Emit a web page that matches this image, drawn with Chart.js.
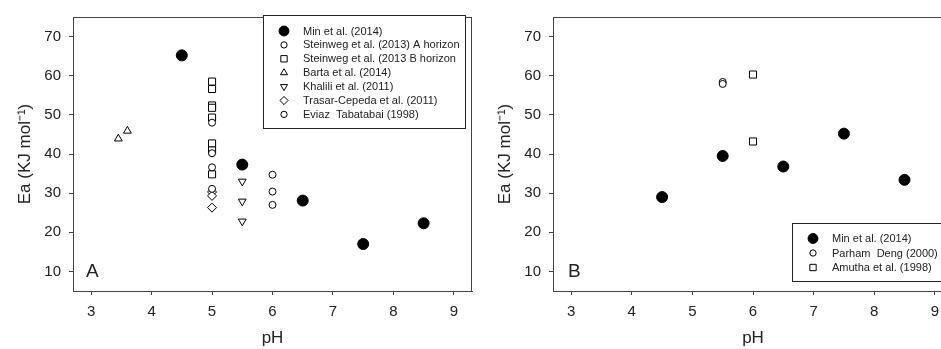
<!DOCTYPE html>
<html>
<head>
<meta charset="utf-8">
<script src="https://cdn.jsdelivr.net/npm/chart.js@4.4.1/dist/chart.umd.min.js"></script>
<style>
  html, body { margin:0; padding:0; width:941px; height:349px; overflow:hidden; background:#fff; }
  #wa { position:absolute; left:0; top:0; width:480px; height:349px; }
  #wb { position:absolute; left:480px; top:0; width:480px; height:349px; }
</style>
</head>
<body>
<div id="wa"><canvas id="ca" width="480" height="349"></canvas></div>
<div id="wb"><canvas id="cb" width="480" height="349"></canvas></div>
<script>
// ---- tick labels ----
const phTicks = [3, 4, 5, 6, 7, 8, 9];
const eaTicks = [10, 20, 30, 40, 50, 60, 70];

// ---- Panel A data ----
const aLabels = ["Min et al. (2014)", "Steinweg et al. (2013) A horizon", "Steinweg et al. (2013 B horizon",
                 "Barta et al. (2014)", "Khalili et al. (2011)", "Trasar-Cepeda et al. (2011)", "Eviaz  Tabatabai (1998)"];
const aMinPH = [4.5, 5.5, 6.5, 7.5, 8.5];
const aMinEa = [65.2, 37.3, 28.1, 17.0, 22.3];
const aSteinAPH = [5, 5, 5, 5];
const aSteinAEa = [48.0, 40.2, 36.6, 31.1];
const aSteinBPH = [5, 5, 5, 5, 5, 5, 5, 5];
const aSteinBEa = [58.5, 56.6, 52.4, 51.8, 49.3, 42.7, 40.9, 34.8];
const aBartaPH = [3.45, 3.6];
const aBartaEa = [43.9, 45.9];
const aKhaliliPH = [5.5, 5.5, 5.5];
const aKhaliliEa = [33.0, 27.9, 22.8];
const aTrasarPH = [5, 5, 5];
const aTrasarEa = [30.3, 29.3, 26.3];
const aEviazPH = [6, 6, 6];
const aEviazEa = [34.7, 30.4, 27.0];

// ---- Panel B data ----
const bLabels = ["Min et al. (2014)", "Parham  Deng (2000)", "Amutha et al. (1998)"];
const bMinPH = [4.5, 5.5, 6.5, 7.5, 8.5];
const bMinEa = [29.0, 39.5, 36.8, 45.2, 33.4];
const bParhamPH = [5.5, 5.5];
const bParhamEa = [58.4, 57.9];
const bAmuthaPH = [6, 6];
const bAmuthaEa = [60.3, 43.2];

const FONT = "'Liberation Sans', Arial, sans-serif";
const AXC = '#444';
const TXT = '#222';

function pts(xs, ys) { return xs.map((x, i) => ({ x: x, y: ys[i] })); }

const styles = {
  filled:  { pointStyle: 'circle', pointRadius: 5.5, backgroundColor: '#000', borderColor: '#000', borderWidth: 1, rotation: 0 },
  circle:  { pointStyle: 'circle', pointRadius: 3.5, backgroundColor: '#fff', borderColor: '#000', borderWidth: 1, rotation: 0 },
  square:  { pointStyle: 'rect', pointRadius: 5, backgroundColor: '#fff', borderColor: '#000', borderWidth: 1, rotation: 0 },
  triUp:   { pointStyle: 'triangle', pointRadius: 4.5, backgroundColor: '#fff', borderColor: '#000', borderWidth: 1, rotation: 0 },
  triDown: { pointStyle: 'triangle', pointRadius: 4.5, backgroundColor: '#fff', borderColor: '#000', borderWidth: 1, rotation: 180 },
  diamond: { pointStyle: 'rectRot', pointRadius: 4.5, backgroundColor: '#fff', borderColor: '#000', borderWidth: 1, rotation: 0 }
};

function ds(label, data, st) {
  return Object.assign({ label: label, data: data, showLine: false, pointHoverRadius: st.pointRadius }, st);
}

const boxLegend = {
  id: 'boxLegend',
  afterDraw(chart, args, o) {
    const ctx = chart.ctx;
    ctx.save();
    // frame top/right
    const ca = chart.chartArea;
    ctx.strokeStyle = AXC; ctx.lineWidth = 1;
    ctx.beginPath();
    ctx.moveTo(ca.left, ca.top + 0.5); ctx.lineTo(ca.right, ca.top + 0.5);
    if (o.rightBorder) { ctx.moveTo(ca.right - 0.5, ca.top); ctx.lineTo(ca.right - 0.5, ca.bottom); }
    ctx.stroke();
    // panel letter
    ctx.fillStyle = TXT;
    ctx.font = '19px ' + FONT;
    ctx.textBaseline = 'alphabetic';
    ctx.textAlign = 'left';
    ctx.fillText(o.letter, o.letterX, o.letterY);
    // legend box
    ctx.fillStyle = '#fff';
    ctx.fillRect(o.x, o.y, o.w, o.h);
    ctx.strokeStyle = '#222';
    ctx.lineWidth = 1;
    ctx.strokeRect(o.x + 0.5, o.y + 0.5, o.w, o.h);
    ctx.font = o.fontSize + 'px ' + FONT;
    ctx.textBaseline = 'middle';
    chart.data.datasets.forEach((d, i) => {
      const y = o.row0 + i * o.rowH;
      ctx.fillStyle = d.backgroundColor;
      ctx.strokeStyle = d.borderColor;
      ctx.lineWidth = d.borderWidth;
      Chart.helpers.drawPoint(ctx, { pointStyle: d.pointStyle, radius: o.markerScale * d.pointRadius, rotation: d.rotation, borderWidth: d.borderWidth }, o.markerX, y);
      ctx.fillStyle = TXT;
      ctx.fillText(d.label, o.textX, y + 0.5);
    });
    ctx.restore();
  }
};

function makeOptions(legendOpts) {
  return {
    responsive: false,
    animation: false,
    events: [],
    layout: { padding: { left: 0, top: 10, right: legendOpts.padRight, bottom: 0 } },
    plugins: { legend: { display: false }, tooltip: { enabled: false }, boxLegend: legendOpts },
    scales: {
      x: {
        type: 'linear', min: 2.7, max: 9.3,
        afterBuildTicks: s => { s.ticks = phTicks.map(v => ({ value: v })); },
        afterFit: s => { s.height = 58; },
        grid: { display: true, drawOnChartArea: false, drawTicks: true, tickLength: 4, color: AXC },
        border: { display: true, color: AXC, width: 1 },
        ticks: { autoSkip: false, maxRotation: 0, padding: 8, color: TXT, font: { family: FONT, size: 15 } },
        title: { display: true, text: 'pH', color: TXT, font: { family: FONT, size: 17 }, padding: { top: 0, bottom: 0 } }
      },
      y: {
        type: 'linear', min: 5, max: 75,
        afterBuildTicks: s => { s.ticks = eaTicks.map(v => ({ value: v })); },
        afterFit: s => { s.width = 73; },
        grid: { display: true, drawOnChartArea: false, drawTicks: true, tickLength: 4, color: AXC },
        border: { display: true, color: AXC, width: 1 },
        ticks: { autoSkip: false, padding: 8, color: TXT, font: { family: FONT, size: 15 } },
        title: { display: true, text: 'Ea (KJ mol\u207B\u00B9)', color: TXT, font: { family: FONT, size: 17 }, padding: { top: 15, bottom: 0 } }
      }
    }
  };
}

new Chart(document.getElementById('ca'), {
  type: 'scatter',
  data: {
    datasets: [
      ds(aLabels[0], pts(aMinPH, aMinEa), styles.filled),
      ds(aLabels[1], pts(aSteinAPH, aSteinAEa), styles.circle),
      ds(aLabels[2], pts(aSteinBPH, aSteinBEa), styles.square),
      ds(aLabels[3], pts(aBartaPH, aBartaEa), styles.triUp),
      ds(aLabels[4], pts(aKhaliliPH, aKhaliliEa), styles.triDown),
      ds(aLabels[5], pts(aTrasarPH, aTrasarEa), styles.diamond),
      ds(aLabels[6], pts(aEviazPH, aEviazEa), styles.circle)
    ]
  },
  options: makeOptions({ padRight: 8, rightBorder: true, letter: 'A', letterX: 86, letterY: 277,
    x: 263, y: 15, w: 202, h: 113, row0: 31, rowH: 13.9, markerX: 284, textX: 303, fontSize: 11, markerScale: 0.9 }),
  plugins: [boxLegend]
});

new Chart(document.getElementById('cb'), {
  type: 'scatter',
  data: {
    datasets: [
      ds(bLabels[0], pts(bMinPH, bMinEa), styles.filled),
      ds(bLabels[1], pts(bParhamPH, bParhamEa), styles.circle),
      ds(bLabels[2], pts(bAmuthaPH, bAmuthaEa), styles.square)
    ]
  },
  options: makeOptions({ padRight: 7, rightBorder: false, letter: 'B', letterX: 88, letterY: 277,
    x: 312, y: 223, w: 160, h: 58, row0: 238.5, rowH: 14.5, markerX: 333, textX: 352, fontSize: 11, markerScale: 0.9 }),
  plugins: [boxLegend]
});
</script>
</body>
</html>
